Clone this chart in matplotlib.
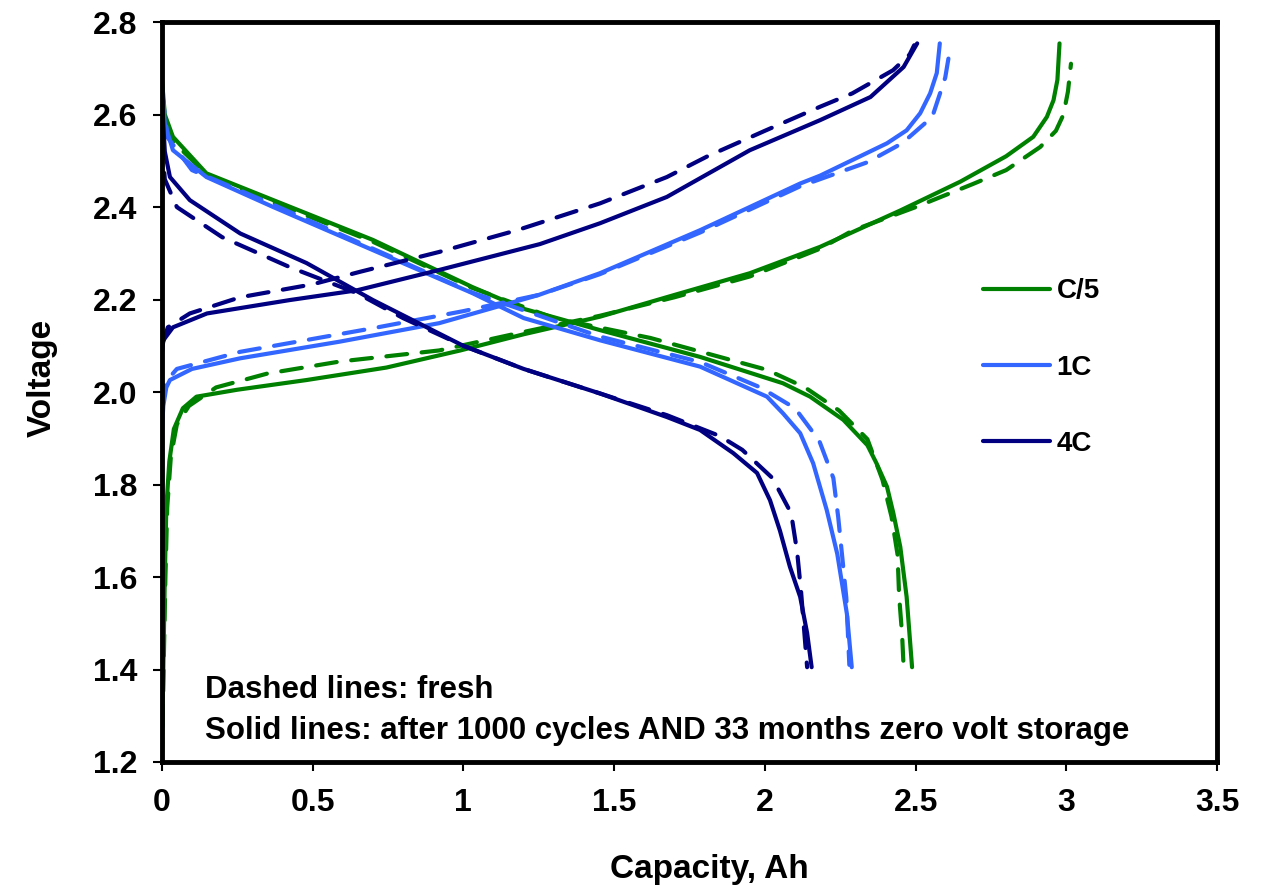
import matplotlib
matplotlib.use("Agg")
import matplotlib.pyplot as plt
from matplotlib.lines import Line2D

plt.rcParams['font.family'] = ['Liberation Sans', 'DejaVu Sans']
plt.rcParams['font.weight'] = 'bold'

# ---------------- data (capacity Ah, voltage V) ----------------
# C/5
c5_chg_cap = [0.0, 0.005, 0.01, 0.015, 0.025, 0.04, 0.07, 0.115, 0.25, 0.48, 0.745, 0.99, 1.2, 1.453, 1.7,
              1.95, 2.183, 2.45, 2.648, 2.80, 2.89, 2.935, 2.957, 2.97, 2.977]
c5_chg_v = [1.20, 1.40, 1.60, 1.75, 1.85, 1.92, 1.965, 1.99, 2.005, 2.026, 2.053, 2.09, 2.125, 2.163, 2.21,
            2.257, 2.314, 2.393, 2.455, 2.51, 2.552, 2.595, 2.631, 2.675, 2.754]
c5_chg_cap_f = [0.0, 0.006, 0.012, 0.018, 0.03, 0.05, 0.09, 0.18, 0.35, 0.59, 0.92, 1.2, 1.453, 1.7, 1.95,
                2.183, 2.293, 2.5, 2.69, 2.80, 2.913, 2.965, 2.99, 3.005, 3.015]
c5_chg_v_f = [1.20, 1.40, 1.60, 1.75, 1.86, 1.93, 1.97, 2.01, 2.04, 2.066, 2.09, 2.13, 2.165, 2.205, 2.25,
              2.31, 2.35, 2.40, 2.45, 2.48, 2.53, 2.565, 2.60, 2.65, 2.71]
c5_dis_cap = [0.0, 0.01, 0.037, 0.148, 0.37, 0.70, 1.03, 1.2, 1.453, 1.785, 2.06, 2.15, 2.26, 2.34, 2.37,
              2.405, 2.426, 2.449, 2.47, 2.488]
c5_dis_v = [2.68, 2.60, 2.552, 2.473, 2.415, 2.329, 2.227, 2.18, 2.134, 2.076, 2.019, 1.99, 1.94, 1.885,
            1.846, 1.795, 1.738, 1.665, 1.557, 1.405]
c5_dis_cap_f = [0.0, 0.01, 0.04, 0.15, 0.37, 0.70, 1.03, 1.3, 1.62, 2.007, 2.133, 2.246, 2.34, 2.39, 2.42,
                2.44, 2.445, 2.455, 2.46]
c5_dis_v_f = [2.66, 2.59, 2.54, 2.47, 2.41, 2.325, 2.225, 2.16, 2.117, 2.048, 2.01, 1.96, 1.898, 1.81,
              1.73, 1.648, 1.56, 1.475, 1.405]

# 1C
c1_chg_cap = [0.0, 0.005, 0.015, 0.027, 0.1, 0.26, 0.59, 0.92, 1.25, 1.453, 1.785, 2.117, 2.183, 2.405,
              2.47, 2.515, 2.548, 2.57, 2.58]
c1_chg_v = [1.91, 1.97, 2.01, 2.026, 2.05, 2.073, 2.109, 2.149, 2.21, 2.257, 2.35, 2.451, 2.468, 2.538,
            2.566, 2.603, 2.646, 2.69, 2.754]
c1_chg_cap_f = [0.0, 0.01, 0.05, 0.26, 0.70, 1.0, 1.25, 1.453, 1.785, 2.117, 2.34, 2.455, 2.555, 2.598,
                2.615]
c1_chg_v_f = [1.97, 2.02, 2.05, 2.087, 2.138, 2.175, 2.21, 2.255, 2.345, 2.445, 2.497, 2.538, 2.595, 2.68,
              2.746]
c1_dis_cap = [0.0, 0.01, 0.037, 0.148, 0.37, 0.70, 1.03, 1.2, 1.453, 1.785, 2.007, 2.06, 2.117, 2.16,
              2.205, 2.24, 2.272, 2.288]
c1_dis_v = [2.667, 2.58, 2.523, 2.465, 2.40, 2.307, 2.214, 2.16, 2.112, 2.055, 1.99, 1.954, 1.911, 1.846,
            1.745, 1.65, 1.52, 1.405]
c1_dis_cap_f = [0.0, 0.02, 0.1, 0.37, 0.70, 1.03, 1.453, 1.785, 1.985, 2.1, 2.18, 2.227, 2.243, 2.257,
                2.27, 2.28]
c1_dis_v_f = [2.65, 2.55, 2.48, 2.405, 2.31, 2.215, 2.12, 2.065, 2.01, 1.965, 1.895, 1.814, 1.73, 1.64,
              1.555, 1.41]

# 4C
c4_chg_cap = [0.0, 0.005, 0.037, 0.15, 0.425, 0.647, 0.92, 1.254, 1.453, 1.675, 1.95, 2.183, 2.35, 2.46,
              2.505]
c4_chg_v = [2.08, 2.112, 2.14, 2.17, 2.199, 2.22, 2.264, 2.32, 2.365, 2.422, 2.523, 2.588, 2.638, 2.703,
            2.754]
c4_chg_cap_f = [0.0, 0.02, 0.093, 0.26, 0.50, 0.657, 0.92, 1.178, 1.453, 1.675, 1.81, 2.0, 2.183, 2.29,
                2.425, 2.48, 2.495]
c4_chg_v_f = [2.10, 2.14, 2.17, 2.205, 2.233, 2.26, 2.303, 2.35, 2.408, 2.465, 2.51, 2.565, 2.617, 2.646,
              2.696, 2.73, 2.75]
c4_dis_cap = [0.0, 0.01, 0.027, 0.093, 0.26, 0.48, 0.70, 1.0, 1.2, 1.453, 1.675, 1.785, 1.895, 1.974,
              2.017, 2.05, 2.083, 2.117, 2.14, 2.155]
c4_dis_v = [2.64, 2.52, 2.465, 2.415, 2.343, 2.279, 2.199, 2.10, 2.05, 1.997, 1.946, 1.918, 1.868, 1.825,
            1.766, 1.70, 1.622, 1.557, 1.479, 1.405]
c4_dis_cap_f = [0.0, 0.01, 0.05, 0.2, 0.425, 0.647, 0.8, 1.0, 1.2, 1.453, 1.675, 1.85, 1.925, 2.025, 2.087,
                2.107, 2.12, 2.14]
c4_dis_v_f = [2.55, 2.46, 2.40, 2.335, 2.27, 2.214, 2.16, 2.10, 2.05, 1.997, 1.95, 1.905, 1.875, 1.814,
              1.738, 1.654, 1.568, 1.405]

rate_labels = ['C/5', '1C', '4C']
rate_colors = ['#008000', '#3366FF', '#000080']

x_ticks = [0, 0.5, 1, 1.5, 2, 2.5, 3, 3.5]
x_tick_labels = ['0', '0.5', '1', '1.5', '2', '2.5', '3', '3.5']
y_ticks = [1.2, 1.4, 1.6, 1.8, 2.0, 2.2, 2.4, 2.6, 2.8]

note_lines = ['Dashed lines: fresh',
              'Solid lines: after 1000 cycles AND 33 months zero volt storage']

# ---------------- plot ----------------
fig = plt.figure(figsize=(12.64, 8.85), dpi=100)
ax = fig.add_axes([0.128, 0.139, 0.835, 0.836])

curves = [
    (c5_chg_cap, c5_chg_v, c5_chg_cap_f, c5_chg_v_f, c5_dis_cap, c5_dis_v, c5_dis_cap_f, c5_dis_v_f),
    (c1_chg_cap, c1_chg_v, c1_chg_cap_f, c1_chg_v_f, c1_dis_cap, c1_dis_v, c1_dis_cap_f, c1_dis_v_f),
    (c4_chg_cap, c4_chg_v, c4_chg_cap_f, c4_chg_v_f, c4_dis_cap, c4_dis_v, c4_dis_cap_f, c4_dis_v_f),
]
lw = 3.0
dash = (0, (5, 3.5))
for i, cv in enumerate(curves):
    col = rate_colors[i]
    # fresh (dashed) first, aged (solid) on top
    ax.plot(cv[2], cv[3], color=col, lw=lw, linestyle=dash, dash_capstyle='round')
    ax.plot(cv[6], cv[7], color=col, lw=lw, linestyle=dash, dash_capstyle='round')
    ax.plot(cv[0], cv[1], color=col, lw=lw, solid_capstyle='round', solid_joinstyle='round')
    ax.plot(cv[4], cv[5], color=col, lw=lw, solid_capstyle='round', solid_joinstyle='round')

ax.set_xlim(0, 3.5)
ax.set_ylim(1.2, 2.8)
ax.set_xticks(x_ticks)
ax.set_xticklabels(x_tick_labels)
ax.set_yticks(y_ticks)
ax.set_yticklabels(['%.1f' % v for v in y_ticks])
ax.tick_params(axis='both', direction='out', length=6.5, width=1.5, labelsize=23,
               top=False, right=False)
ax.tick_params(axis='x', pad=12)
ax.tick_params(axis='y', pad=11)
for sp in ax.spines.values():
    sp.set_linewidth(3.5)

ax.set_xlabel('Capacity, Ah', fontsize=24, fontweight='bold')
ax.set_ylabel('Voltage', fontsize=24, fontweight='bold')
ax.xaxis.set_label_coords(0.519, -0.125)
ax.yaxis.set_label_coords(-0.099, 0.519)

# legend, solid lines only
handles = [Line2D([0], [0], color=c, lw=lw, solid_capstyle='round') for c in rate_colors]
ax.legend(handles, rate_labels, loc='center left', bbox_to_anchor=(0.778, 0.533), frameon=False,
          handlelength=2.4, handletextpad=0.25, labelspacing=1.81, borderpad=0,
          borderaxespad=0, prop={'weight': 'bold', 'size': 20})

ax.text(0.143, 1.356, note_lines[0], fontsize=22.5, fontweight='bold', va='center', ha='left')
ax.text(0.143, 1.267, note_lines[1], fontsize=22.5, fontweight='bold', va='center', ha='left')

fig.savefig('out.png', dpi=100)
